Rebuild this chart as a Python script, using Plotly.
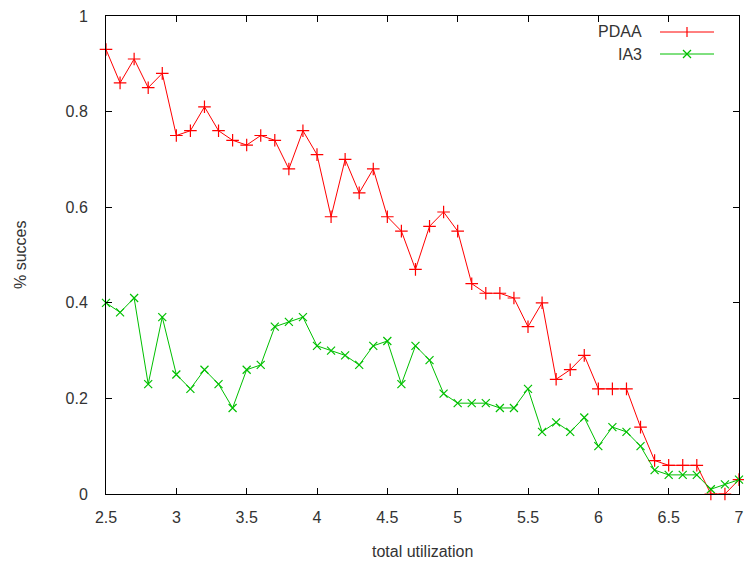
import plotly.graph_objects as go

x_util = [2.5, 2.6, 2.7, 2.8, 2.9, 3.0, 3.1, 3.2, 3.3, 3.4, 3.5, 3.6, 3.7, 3.8, 3.9,
          4.0, 4.1, 4.2, 4.3, 4.4, 4.5, 4.6, 4.7, 4.8, 4.9, 5.0, 5.1, 5.2, 5.3, 5.4,
          5.5, 5.6, 5.7, 5.8, 5.9, 6.0, 6.1, 6.2, 6.3, 6.4, 6.5, 6.6, 6.7, 6.8, 6.9, 7.0]

pdaa = [0.93, 0.86, 0.91, 0.85, 0.88, 0.75, 0.76, 0.81, 0.76, 0.74, 0.73, 0.75, 0.74, 0.68, 0.76,
        0.71, 0.58, 0.70, 0.63, 0.68, 0.58, 0.55, 0.47, 0.56, 0.59, 0.55, 0.44, 0.42, 0.42, 0.41,
        0.35, 0.40, 0.24, 0.26, 0.29, 0.22, 0.22, 0.22, 0.14, 0.07, 0.06, 0.06, 0.06, 0.0, 0.0, 0.03]

ia3 = [0.40, 0.38, 0.41, 0.23, 0.37, 0.25, 0.22, 0.26, 0.23, 0.18, 0.26, 0.27, 0.35, 0.36, 0.37,
       0.31, 0.30, 0.29, 0.27, 0.31, 0.32, 0.23, 0.31, 0.28, 0.21, 0.19, 0.19, 0.19, 0.18, 0.18,
       0.22, 0.13, 0.15, 0.13, 0.16, 0.10, 0.14, 0.13, 0.10, 0.05, 0.04, 0.04, 0.04, 0.01, 0.02, 0.03]

x_ticks = [2.5, 3, 3.5, 4, 4.5, 5, 5.5, 6, 6.5, 7]
x_tick_labels = ["2.5", "3", "3.5", "4", "4.5", "5", "5.5", "6", "6.5", "7"]
y_ticks = [0, 0.2, 0.4, 0.6, 0.8, 1]
y_tick_labels = ["0", "0.2", "0.4", "0.6", "0.8", "1"]

series_names = ["PDAA", "IA3"]
x_title = "total utilization"
y_title = "% succes"

RED = "#ff0000"
GREEN = "#00c000"
FONT = "Liberation Sans, Arial, sans-serif"
TXT = "#333333"

fig = go.Figure()
fig.add_trace(go.Scatter(x=x_util, y=pdaa, mode="lines+markers", name=series_names[0],
                         line=dict(color=RED, width=1),
                         marker=dict(symbol="cross-thin", size=9, line=dict(color=RED, width=1.2)),
                         cliponaxis=False, showlegend=False))
fig.add_trace(go.Scatter(x=x_util, y=ia3, mode="lines+markers", name=series_names[1],
                         line=dict(color=GREEN, width=1),
                         marker=dict(symbol="x-thin", size=8, line=dict(color=GREEN, width=1.2)),
                         cliponaxis=False, showlegend=False))

W, H = 744, 565
L, R, T, B = 106, 5, 16, 71
pw, ph = W - L - R, H - T - B

def px_x(p):
    return (p - L) / pw

def px_y(p):
    return 1 - (p - T) / ph

shapes = []
annotations = []
legend_rows = [(series_names[0], RED, 32, "plus"), (series_names[1], GREEN, 54, "x")]
for name, col, yp, sym in legend_rows:
    annotations.append(dict(x=px_x(644), y=px_y(yp), xref="paper", yref="paper",
                            text=name, showarrow=False, xanchor="right", yanchor="middle",
                            font=dict(family=FONT, size=16, color=TXT)))
    shapes.append(dict(type="line", xref="paper", yref="paper",
                       x0=px_x(660), x1=px_x(714), y0=px_y(yp), y1=px_y(yp),
                       line=dict(color=col, width=1)))
    cx = 687
    if sym == "plus":
        shapes.append(dict(type="line", xref="paper", yref="paper",
                           x0=px_x(cx), x1=px_x(cx), y0=px_y(yp - 5), y1=px_y(yp + 5),
                           line=dict(color=col, width=1.2)))
    else:
        shapes.append(dict(type="line", xref="paper", yref="paper",
                           x0=px_x(cx - 4), x1=px_x(cx + 4), y0=px_y(yp - 4), y1=px_y(yp + 4),
                           line=dict(color=col, width=1.2)))
        shapes.append(dict(type="line", xref="paper", yref="paper",
                           x0=px_x(cx - 4), x1=px_x(cx + 4), y0=px_y(yp + 4), y1=px_y(yp - 4),
                           line=dict(color=col, width=1.2)))

# axis titles
annotations.append(dict(x=px_x(422), y=px_y(551), xref="paper", yref="paper", text=x_title,
                        showarrow=False, xanchor="center", yanchor="middle",
                        font=dict(family=FONT, size=16, color=TXT)))
annotations.append(dict(x=px_x(20), y=px_y(255), xref="paper", yref="paper", text=y_title,
                        showarrow=False, xanchor="center", yanchor="middle", textangle=-90,
                        font=dict(family=FONT, size=16, color=TXT)))

fig.update_layout(
    width=W, height=H,
    margin=dict(l=L, r=R, t=T, b=B, autoexpand=False),
    paper_bgcolor="white", plot_bgcolor="white",
    font=dict(family=FONT, size=16, color=TXT),
    shapes=shapes, annotations=annotations,
    showlegend=False,
)
fig.update_xaxes(range=[2.5, 7], tickvals=x_ticks, ticktext=x_tick_labels, automargin=False,
                 showgrid=False, zeroline=False, showline=True, linecolor="black", linewidth=1,
                 mirror="ticks", ticks="inside", ticklen=6, tickcolor="black",
                 ticklabelstandoff=9, ticklabeloverflow="allow",
                 tickfont=dict(family=FONT, size=16, color=TXT))
fig.update_yaxes(range=[0, 1], tickvals=y_ticks, ticktext=y_tick_labels, automargin=False,
                 showgrid=False, zeroline=False, showline=True, linecolor="black", linewidth=1,
                 mirror="ticks", ticks="inside", ticklen=6, tickcolor="black",
                 ticklabelstandoff=14, ticklabeloverflow="allow",
                 tickfont=dict(family=FONT, size=16, color=TXT))

fig.write_html("out.html", config={"displayModeBar": False})

# remove the browser's default body margin so the figure fills the window exactly
with open("out.html", "r", encoding="utf-8") as f:
    html = f.read()
html = html.replace("<head>", "<head><style>html,body{margin:0;padding:0;overflow:hidden;}</style>", 1)
with open("out.html", "w", encoding="utf-8") as f:
    f.write(html)
